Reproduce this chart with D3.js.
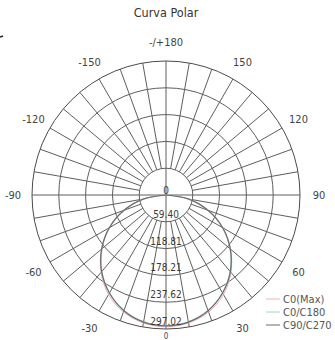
<!DOCTYPE html>
<html>
<head>
<meta charset="utf-8">
<script src="https://cdn.jsdelivr.net/npm/d3@7"></script>
<style>
  html, body { margin: 0; padding: 0; background: #fff; }
  svg { display: block; }
  text { font-family: "DejaVu Sans Condensed", "DejaVu Sans", sans-serif; font-stretch: condensed; }
</style>
</head>
<body>
<svg id="chart" width="335" height="340"></svg>
<script>
// Ring values (cd/klm) and angle labels around the dial
const ringValues = [59.40, 118.81, 178.21, 237.62, 297.02];
const ringLabels = ["59.40", "118.81", "178.21", "237.62", "297.02"];
const angleTicks = [0, 30, 60, 90, 120, 150, 180, -150, -120, -90, -60, -30];
const angleLabels = ["0", "30", "60", "90", "120", "150", "-/+180", "-150", "-120", "-90", "-60", "-30"];

// Luminous intensity per gamma angle (0..90 deg), mirrored for the opposite half-plane
const gammaAngles = [0, 10, 20, 30, 40, 50, 60, 70, 80, 90];
const c0Max   = [292, 288, 276, 255, 224, 187, 146, 100, 51, 0];
const c0c180  = [289, 285, 272, 250, 221, 185, 144, 98, 49, 0];
const c90c270 = [290, 286, 273, 251, 222, 186, 145, 99, 50, 0];

const seriesNames  = ["C0(Max)", "C0/C180", "C90/C270"];
const seriesValues = [c0Max, c0c180, c90c270];
const seriesColors = ["#eeb0be", "#9ed8c4", "#6a6a6a"];

const svg = d3.select("#chart");
const cx = 166, cy = 195, R = 134;
const rScale = d3.scaleLinear().domain([0, 297.02]).range([0, R]);
const toRad = d => d * Math.PI / 180;
// gamma 0 points down; positive angles run towards the right side
const px = (a, r) => cx + r * Math.sin(toRad(a));
const py = (a, r) => cy + r * Math.cos(toRad(a));

svg.append("text")
  .attr("x", cx).attr("y", 17)
  .attr("text-anchor", "middle")
  .attr("font-size", 12.5)
  .attr("fill", "#333")
  .text("Curva Polar");

svg.append("line").attr("x1", 0).attr("x2", 3).attr("y1", 37).attr("y2", 36)
  .attr("stroke", "#222").attr("stroke-width", 1.5);

const grid = svg.append("g").attr("fill", "none").attr("stroke", "#5e5e5e").attr("stroke-width", 1);

// concentric rings
grid.selectAll("circle.ring").data(ringValues).join("circle")
  .attr("class", "ring")
  .attr("cx", cx).attr("cy", cy)
  .attr("r", d => rScale(d))
  .attr("stroke", (d, i) => i === ringValues.length - 1 ? "#4a4a4a" : "#5e5e5e");

// spokes every 10 degrees, from the first ring outwards
const spokes = d3.range(-170, 190, 10);
grid.selectAll("line.spoke").data(spokes).join("line")
  .attr("class", "spoke")
  .attr("x1", d => px(d, (d % 90 === 0) ? 0 : rScale(ringValues[0])))
  .attr("y1", d => py(d, (d % 90 === 0) ? 0 : rScale(ringValues[0])))
  .attr("x2", d => px(d, R))
  .attr("y2", d => py(d, R));

// intensity curves
const radial = d3.lineRadial()
  .angle(d => Math.PI - toRad(d[0]))
  .radius(d => rScale(d[1]))
  .curve(d3.curveCatmullRom);

seriesValues.forEach((vals, i) => {
  const pts = [];
  for (let k = gammaAngles.length - 1; k > 0; k--) pts.push([-gammaAngles[k], vals[k]]);
  for (let k = 0; k < gammaAngles.length; k++) pts.push([gammaAngles[k], vals[k]]);
  svg.append("path")
    .attr("d", radial(pts))
    .attr("transform", `translate(${cx},${cy})`)
    .attr("fill", "none")
    .attr("stroke", seriesColors[i])
    .attr("stroke-width", i === 2 ? 1.2 : 1);
});

// ring value labels along the lower axis
svg.selectAll("text.rv").data(ringValues).join("text")
  .attr("class", "rv")
  .attr("x", cx)
  .attr("y", d => cy + rScale(d) - 4)
  .attr("text-anchor", "middle")
  .attr("font-size", 10)
  .attr("fill", "#3a3a3a")
  .text((d, i) => ringLabels[i]);

svg.append("text")
  .attr("x", cx).attr("y", cy - 1)
  .attr("text-anchor", "middle")
  .attr("font-size", 10)
  .attr("fill", "#3a3a3a")
  .text("0");

// angle labels (the bottom "0" sits right at the lower edge)
const labelR = 153;
svg.selectAll("text.ang").data(angleTicks).join("text")
  .attr("class", "ang")
  .attr("x", d => px(d, labelR))
  .attr("y", d => d === 0 ? 339 : py(d, labelR) + 4)
  .attr("text-anchor", "middle")
  .attr("font-size", d => d === 0 ? 8 : 11)
  .attr("fill", "#444")
  .text((d, i) => angleLabels[i]);

// legend
const leg = svg.append("g");
seriesNames.forEach((name, i) => {
  const y = 299 + i * 13;
  leg.append("line")
    .attr("x1", 266).attr("x2", 280)
    .attr("y1", y).attr("y2", y)
    .attr("stroke", seriesColors[i]).attr("stroke-width", 1);
  leg.append("text")
    .attr("x", 283).attr("y", y + 4)
    .attr("font-size", 11)
    .attr("fill", "#555")
    .text(name);
});
</script>
</body>
</html>
